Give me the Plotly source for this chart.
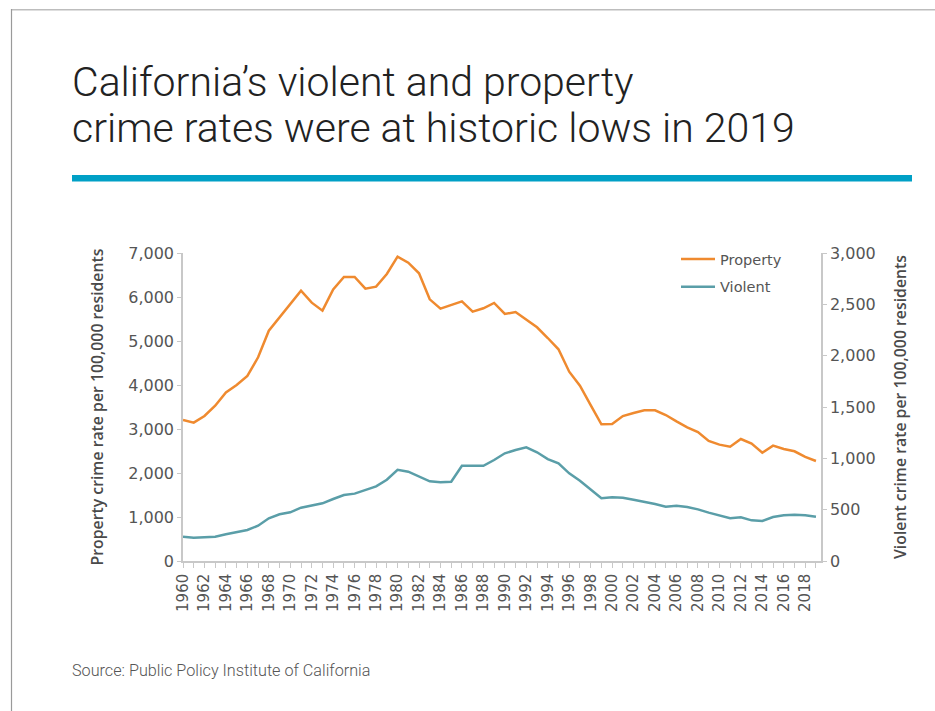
import plotly.graph_objects as go

# Annual crime rates per 100,000 residents, California
years = list(range(1960, 2020))
property_rate = [
    3205, 3144, 3295, 3530, 3833, 4000, 4205, 4629, 5235, 5538,
    5856, 6144, 5871, 5690, 6174, 6455, 6455, 6189, 6235, 6523,
    6917, 6781, 6538, 5947, 5735, 5826, 5902, 5667, 5743, 5864,
    5614, 5659, 5493, 5311, 5068, 4811, 4303, 3985, 3545, 3106,
    3114, 3295, 3364, 3424, 3424, 3318, 3174, 3038, 2932, 2727,
    2644, 2598, 2773, 2667, 2462, 2621, 2545, 2493, 2364, 2273,
]
violent_rate = [
    237, 227, 231, 237, 260, 279, 302, 344, 416, 455,
    474, 519, 542, 562, 604, 643, 656, 692, 727, 792,
    889, 870, 821, 776, 766, 772, 928, 925, 928, 984,
    1049, 1081, 1107, 1059, 993, 951, 854, 782, 692, 611,
    620, 617, 597, 578, 555, 529, 539, 526, 503, 471,
    441, 416, 425, 396, 390, 429, 445, 451, 445, 432,
]
property_ticks = [0, 1000, 2000, 3000, 4000, 5000, 6000, 7000]
violent_ticks = [0, 500, 1000, 1500, 2000, 2500, 3000]
year_labels = [str(y) if y % 2 == 0 else "" for y in years]

W, H = 935, 711
ML, MR, MT, MB = 183, 114, 253, 150
PW, PH = W - ML - MR, H - MT - MB


def px_x(x):
    return (x - ML) / PW


def px_y(y):
    return (H - MB - y) / PH


ORANGE = "#ef8a2f"
TEAL = "#5a9ea8"
AXIS = "#c8c8c8"
TICKFONT = "DejaVu Sans"
LABELFONT = dict(family="Open Sans", size=15.8, color="#4a4a4a", weight=600)

fig = go.Figure()
fig.add_trace(go.Scatter(
    x=years, y=property_rate, name="Property", mode="lines",
    line=dict(color=ORANGE, width=2.5), legendgroup="p", yaxis="y",
))
fig.add_trace(go.Scatter(
    x=years, y=violent_rate, name="Violent", mode="lines",
    line=dict(color=TEAL, width=2.5), legendgroup="v", yaxis="y2",
))

fig.update_layout(
    width=W, height=H,
    margin=dict(l=ML, r=MR, t=MT, b=MB, pad=0),
    paper_bgcolor="white", plot_bgcolor="white",
    showlegend=True,
    legend=dict(
        x=px_x(676), y=px_y(243), xanchor="left", yanchor="top",
        font=dict(family=TICKFONT, size=14.5, color="#555"),
        tracegroupgap=6, traceorder="grouped", bgcolor="rgba(0,0,0,0)",
        itemwidth=34,
    ),
    xaxis=dict(
        range=[1960, 2019.47], tickvals=years, ticktext=year_labels,
        tickangle=-90, ticks="outside", ticklen=5, tickcolor=AXIS,
        showline=True, linecolor=AXIS, linewidth=1.5,
        showgrid=False, zeroline=False,
        tickfont=dict(family=TICKFONT, size=15, color="#555"),
    ),
    yaxis=dict(
        range=[0, 7000], tickvals=property_ticks, tickformat=",d",
        ticks="outside", ticklen=4, tickcolor=AXIS,
        showline=True, linecolor=AXIS, linewidth=1.5,
        showgrid=False, zeroline=False,
        tickfont=dict(family=TICKFONT, size=16, color="#555"),
        title=dict(text="Property crime rate per 100,000 residents",
                   font=LABELFONT, standoff=21),
    ),
    yaxis2=dict(
        range=[0, 3000], tickvals=violent_ticks, tickformat=",d",
        overlaying="y", side="right",
        ticks="outside", ticklen=4, tickcolor=AXIS,
        showline=True, linecolor=AXIS, linewidth=1.5,
        showgrid=False, zeroline=False,
        tickfont=dict(family=TICKFONT, size=16, color="#555"),
        title=dict(text="Violent crime rate per 100,000 residents",
                   font=LABELFONT, standoff=20),
    ),
)

title_font = dict(family="Roboto", size=41, color="#222", weight=300)
fig.add_annotation(
    text="California’s violent and property", xref="paper", yref="paper",
    x=px_x(70), y=px_y(82), xanchor="left", yanchor="middle",
    showarrow=False, font=title_font,
)
fig.add_annotation(
    text="crime rates were at historic lows in 2019", xref="paper", yref="paper",
    x=px_x(70), y=px_y(128), xanchor="left", yanchor="middle",
    showarrow=False, font=title_font,
)
fig.add_annotation(
    text="Source: Public Policy Institute of California", xref="paper", yref="paper",
    x=px_x(70), y=px_y(670), xanchor="left", yanchor="middle",
    showarrow=False, font=dict(family="Roboto", size=16.2, color="#555", weight=300),
)

# Accent rule under the headline
fig.add_shape(type="rect", xref="paper", yref="paper",
              x0=px_x(72), x1=px_x(912), y0=px_y(175), y1=px_y(181.5),
              fillcolor="#00a0c6", line=dict(width=0), layer="above")
# Frame edges at the top and left of the panel
fig.add_shape(type="line", xref="paper", yref="paper",
              x0=px_x(11.5), x1=px_x(936), y0=px_y(9.8), y1=px_y(9.8),
              line=dict(color="#bdbdbd", width=1.5))
fig.add_shape(type="line", xref="paper", yref="paper",
              x0=px_x(11.5), x1=px_x(11.5), y0=px_y(9), y1=px_y(712),
              line=dict(color="#9a9a9a", width=1.2))

fig.write_html("out.html")
